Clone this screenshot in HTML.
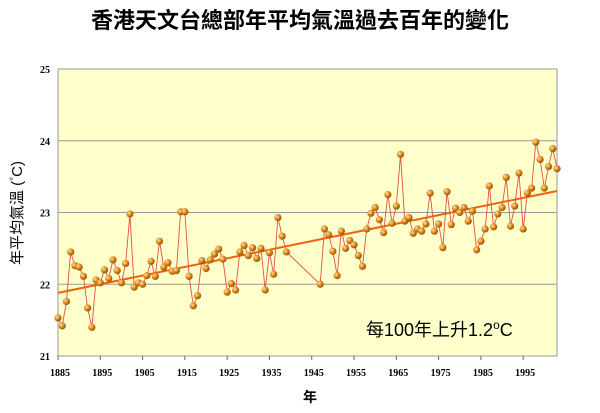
<!DOCTYPE html>
<html><head><meta charset="utf-8"><style>
body{margin:0;background:#fff;width:600px;height:413px;overflow:hidden}
svg{display:block}
</style></head><body>
<svg width="600" height="413">
<defs><radialGradient id="g" cx="0.35" cy="0.35" r="0.7"><stop offset="0" stop-color="#ffe0a0"/><stop offset="0.5" stop-color="#e08a20"/><stop offset="1" stop-color="#8a4a00"/></radialGradient></defs>
<text x="300" y="28" text-anchor="middle" font-family="'Liberation Sans','Noto Sans CJK TC',sans-serif" font-weight="bold" font-size="22">香港天文台總部年平均氣溫過去百年的變化</text>
<rect x="58" y="69" width="499" height="287" fill="#ffffcc" stroke="#999"/>
<g id="grid"></g><g id="axes"></g><g id="series"></g>
<text transform="translate(22,213) rotate(-90)" text-anchor="middle" font-family="'Liberation Sans','Noto Sans CJK TC',sans-serif" font-size="15">年平均氣溫 (<tspan font-size="10" dy="-5">°</tspan><tspan dy="5">C)</tspan></text>
<text x="310" y="402" text-anchor="middle" font-family="'Liberation Sans','Noto Sans CJK TC',sans-serif" font-size="14" font-weight="bold">年</text>
<text x="366" y="336" font-family="'Liberation Sans','Noto Sans CJK TC',sans-serif" font-size="18">每100年上升1.2<tspan font-size="12" dy="-7">o</tspan><tspan dy="7">C</tspan></text>
</svg>
<script>
const years1=[1885,1939];
const temps1=[21.53,21.42,21.76,22.45,22.26,22.24,22.11,21.67,21.40,22.06,22.02,22.20,22.08,22.34,22.19,22.02,22.29,22.98,21.96,22.02,22.00,22.12,22.32,22.11,22.60,22.24,22.30,22.18,22.19,23.01,23.01,22.11,21.70,21.84,22.33,22.22,22.34,22.42,22.49,22.35,21.89,22.01,21.92,22.45,22.54,22.40,22.51,22.36,22.50,21.92,22.44,22.14,22.93,22.67,22.45];
const years2=[1947,2003];
const temps2=[22.00,22.77,22.69,22.46,22.12,22.74,22.50,22.61,22.55,22.40,22.25,22.77,22.99,23.07,22.90,22.72,23.25,22.85,23.09,23.81,22.88,22.93,22.71,22.77,22.74,22.84,23.27,22.74,22.84,22.51,23.29,22.83,23.06,23.00,23.07,22.88,23.02,22.48,22.60,22.77,23.37,22.80,22.98,23.07,23.49,22.81,23.09,23.55,22.77,23.27,23.34,23.98,23.74,23.34,23.64,23.89,23.61];
const trendYears=[1885,2003];
const trendVals=[21.88,23.30];
const yTicks=[21,22,23,24,25];
const xTicks=[1885,1895,1905,1915,1925,1935,1945,1955,1965,1975,1985,1995];
const NS='http://www.w3.org/2000/svg';
const X=y=>58+(y-1885)*(499/118);
const Y=v=>356-(v-21)*(287/4);
function mk(t,a,p){const e=document.createElementNS(NS,t);for(const k in a)e.setAttribute(k,a[k]);document.getElementById(p).appendChild(e);return e;}
yTicks.forEach(v=>{
 if(v>21&&v<25){const l=mk('line',{x1:58,x2:557,y1:Y(v),y2:Y(v),stroke:'#999','stroke-width':1},'grid');
 
 }
 const t=mk('text',{x:50,y:Y(v)+4,'text-anchor':'end','font-family':'Liberation Serif,serif','font-size':10,'font-weight':'bold'},'axes');t.textContent=v;
 
 
});
xTicks.forEach(y=>{
 mk('line',{x1:X(y),x2:X(y),y1:356,y2:360,stroke:'#666'},'axes');
 const t=mk('text',{x:X(y)+2,y:376,'text-anchor':'middle','font-family':'Liberation Serif,serif','font-size':10,'font-weight':'bold'},'axes');t.textContent=y;
 
 
});
const pts=[];
temps1.forEach((v,i)=>pts.push([years1[0]+i,v]));
temps2.forEach((v,i)=>pts.push([years2[0]+i,v]));
const pl=mk('polyline',{points:pts.map(p=>X(p[0])+','+Y(p[1])).join(' '),fill:'none',stroke:'#e05040','stroke-width':0.9},'series');


const tr=mk('line',{x1:X(trendYears[0]),y1:Y(trendVals[0]),x2:X(trendYears[1]),y2:Y(trendVals[1]),stroke:'#f06010','stroke-width':2},'series');


pts.forEach(p=>{const c=mk('circle',{cx:X(p[0]),cy:Y(p[1]),r:3.6,fill:'url(#g)'},'series');
 
 });
</script>
</body></html>
